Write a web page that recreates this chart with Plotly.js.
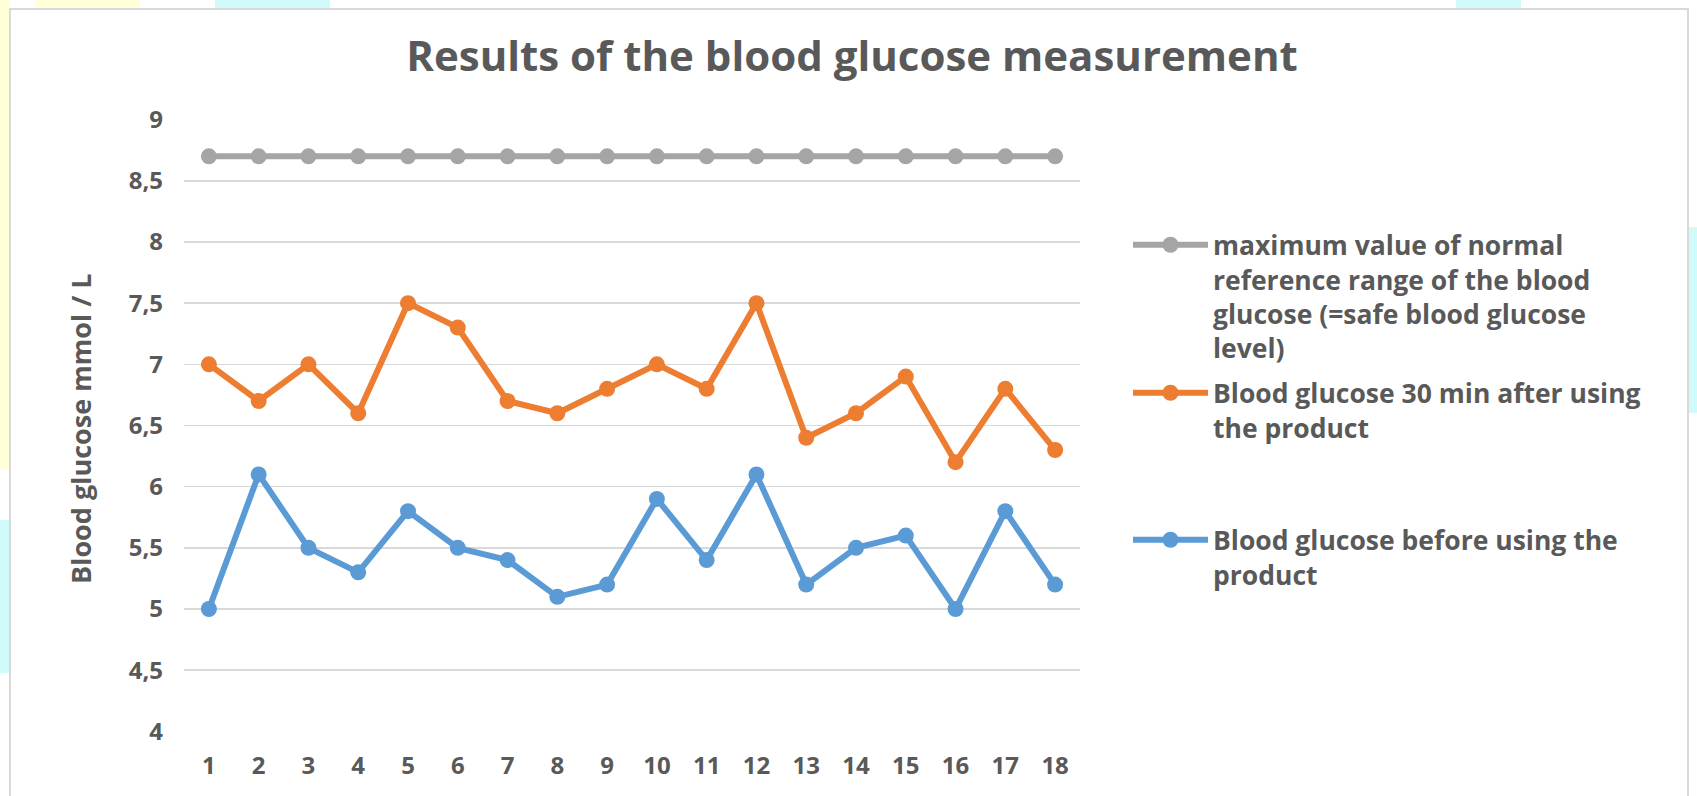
<!DOCTYPE html>
<html>
<head>
<meta charset="utf-8">
<script src="https://cdn.plot.ly/plotly-3.0.1.min.js"></script>
<style>html,body{margin:0;padding:0;background:#fff;}#chart{width:1697px;height:796px;}</style>
</head>
<body>
<div id="chart"></div>
<script>
const categories = [1,2,3,4,5,6,7,8,9,10,11,12,13,14,15,16,17,18];
const maxNormal = [8.7,8.7,8.7,8.7,8.7,8.7,8.7,8.7,8.7,8.7,8.7,8.7,8.7,8.7,8.7,8.7,8.7,8.7];
const after30 = [7.0,6.7,7.0,6.6,7.5,7.3,6.7,6.6,6.8,7.0,6.8,7.5,6.4,6.6,6.9,6.2,6.8,6.3];
const before = [5.0,6.1,5.5,5.3,5.8,5.5,5.4,5.1,5.2,5.9,5.4,6.1,5.2,5.5,5.6,5.0,5.8,5.2];
const yTickVals = [4,4.5,5,5.5,6,6.5,7,7.5,8,8.5,9];
const yTickText = ['4','4,5','5','5,5','6','6,5','7','7,5','8','8,5','9'];
const seriesNames = [
  'maximum value of normal<br>reference range of the blood<br>glucose (=safe blood glucose<br>level)',
  'Blood glucose 30 min after using<br>the product',
  'Blood glucose before using the<br>product'
];
const yTitle = 'Blood glucose mmol / L';
const chartTitle = 'Results of the blood glucose measurement';

const W = 1697, H = 796;
const M = {l:184, r:617, t:119, b:64};
const PW = W - M.l - M.r, PH = H - M.t - M.b;
const px = x => (x - M.l) / PW;
const py = y => (H - M.b - y) / PH;

const textColor = '#595959';
const font = 'Open Sans, sans-serif';

function mk(y, name, color, legend) {
  return {
    x: categories, y: y, name: name, type: 'scatter', mode: 'lines+markers',
    line: {color: color, width: 6},
    marker: {color: color, size: 16},
    legend: legend,
    hoverinfo: 'x+y'
  };
}

const data = [
  mk(maxNormal, seriesNames[0], '#A5A5A5', 'legend'),
  mk(after30, seriesNames[1], '#ED7D31', 'legend2'),
  mk(before, seriesNames[2], '#5B9BD5', 'legend3')
];

function rectPx(x0, y0, x1, y1, fill) {
  return {type:'rect', xref:'paper', yref:'paper', x0:px(x0), x1:px(x1), y0:py(y1), y1:py(y0),
    fillcolor: fill, line:{width:0}, layer:'below'};
}

const legendCommon = {
  font: {family: font, size: 26.5, color: textColor, weight: 'bold'},
  bgcolor: 'rgba(0,0,0,0)', xanchor: 'left', yanchor: 'top', valign: 'top',
  itemwidth: 75, itemclick: false, itemdoubleclick: false
};

const layout = {
  width: W, height: H,
  margin: M,
  paper_bgcolor: '#ffffff', plot_bgcolor: 'rgba(0,0,0,0)',
  showlegend: true,
  title: {
    text: chartTitle,
    font: {family: font, size: 42, color: textColor, weight: 'bold'},
    xref: 'container', yref: 'container', x: 852/W, y: 1 - 56/H, xanchor: 'center', yanchor: 'middle'
  },
  xaxis: {
    range: [0.5, 18.5], tickvals: categories, ticktext: categories.map(String),
    showgrid: false, zeroline: false, showline: false, ticks: '',
    ticklabelstandoff: 17,
    tickfont: {family: font, size: 24, color: textColor, weight: 'bold'},
    fixedrange: true
  },
  yaxis: {
    range: [3.995, 9.005], tickvals: yTickVals, ticktext: yTickText,
    showgrid: true, gridcolor: '#D9D9D9', gridwidth: 1.5, zeroline: false, showline: false, ticks: '',
    ticklabelstandoff: 20,
    tickfont: {family: font, size: 24, color: textColor, weight: 'bold'},
    fixedrange: true
  },
  annotations: [{
    text: yTitle, textangle: -90, xref: 'paper', yref: 'paper', x: px(80), y: py(429),
    xanchor: 'center', yanchor: 'middle', showarrow: false,
    font: {family: font, size: 27, color: textColor, weight: 'bold'}
  }],
  legend: Object.assign({}, legendCommon, {x: px(1128), y: py(221)}),
  legend2: Object.assign({}, legendCommon, {x: px(1128), y: py(369)}),
  legend3: Object.assign({}, legendCommon, {x: px(1128), y: py(516)}),
  shapes: [
    rectPx(0, 0, 9, 470, 'rgba(255,255,200,0.7)'),
    rectPx(0, 520, 9, 673, 'rgba(190,250,250,0.7)'),
    rectPx(35, 0, 140, 9, 'rgba(255,255,200,0.7)'),
    rectPx(215, 0, 330, 9, 'rgba(190,250,250,0.7)'),
    rectPx(1456, 0, 1521, 9, 'rgba(190,250,250,0.7)'),
    rectPx(1689, 227, 1697, 413, 'rgba(190,250,250,0.7)'),
    {type:'rect', xref:'paper', yref:'paper', x0:px(10), x1:px(1688), y0:py(810), y1:py(9),
      fillcolor:'rgba(0,0,0,0)', line:{color:'#D9D9D9', width:2}, layer:'below'}
  ]
};

Plotly.newPlot('chart', data, layout, {displayModeBar: false, staticPlot: true});
</script>
</body>
</html>
